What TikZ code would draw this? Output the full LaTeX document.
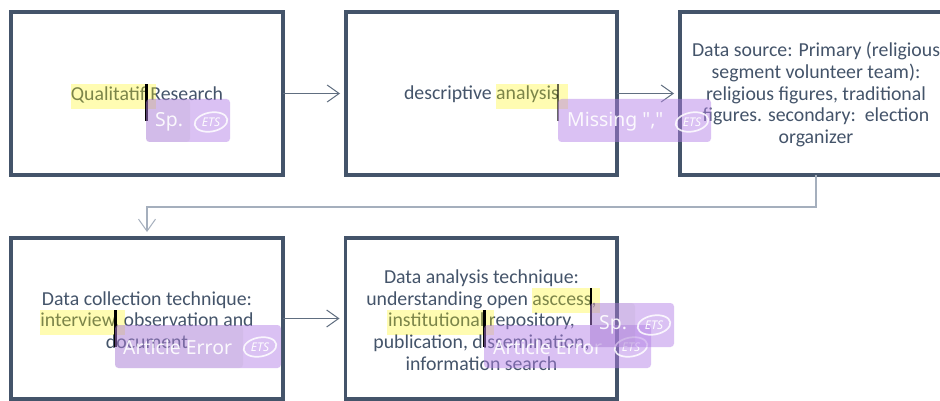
\documentclass[tikz,border=0pt]{standalone}
\usepackage{fontspec}
\setmainfont{Carlito}
\newfontfamily\badgefont{Noto Sans}
\usetikzlibrary{arrows.meta}
\definecolor{slate}{HTML}{44546A}
\definecolor{elbow}{HTML}{A5AFBD}
\definecolor{hl}{HTML}{FFF700}
\definecolor{pur}{HTML}{B27FE6}
\tikzset{
  x=1pt,y=-1pt,
  stepbox/.style={draw=slate,line width=3.2pt,fill=white,minimum width=272pt,minimum height=163pt,inner sep=0pt,outer sep=0pt,anchor=north west},
  boxtext/.style={text=slate,font=\fontsize{19.8}{21.7}\selectfont,align=center,inner sep=0pt},
  flow/.style={draw=slate!85!white,line width=1pt,-{Straight Barb[length=12pt,width=17pt,line width=1pt]},shorten >=6pt},
  hilite/.style={fill=hl,opacity=.3},
  caret/.style={fill=black},
  badge/.style={fill=pur,opacity=.48,rounded corners=3.5pt},
  badgeshade/.style={fill=black!55,opacity=.07,rounded corners=3.5pt},
  badgetext/.style={text=white,text opacity=.9,font=\badgefont\fontsize{19.4}{22}\selectfont,inner sep=0pt,anchor=west},
  etsring/.style={draw=white,draw opacity=.85,line width=1.7pt},
  etstext/.style={text=white,text opacity=.95,font=\badgefont\bfseries\itshape\fontsize{12}{12}\selectfont,inner sep=0pt},
}
\newcommand{\etslogo}[2]{%
  \begin{scope}[shift={(#1,#2)},rotate=10]
    \draw[etsring] (0,0) ellipse [x radius=16.5pt,y radius=9.5pt];
    \node[etstext] (ets#1) at (0,0) {ETS};
  \end{scope}
}
\begin{document}
\begin{tikzpicture}
\clip (0,0) rectangle (940,401);
\fill[white] (0,0) rectangle (940,401);
% boxes
\node[stepbox] (b1) at (11,12) {};
\node[stepbox,minimum width=271pt] (b2) at (346,12) {};
\node[stepbox] (b3) at (680,12) {};
\node[stepbox,minimum height=161pt] (b4) at (11,238) {};
\node[stepbox,minimum height=161pt,minimum width=271.5pt] (b5) at (345.5,238) {};
% texts
\node[boxtext] (t1) at (147,94.5) {Qualitatif Research};
\node[boxtext] (t2) at (481.5,94.5) {descriptive analysis};
\node[boxtext] (t3) at (816,94.5) {Data source: Primary (religious\\segment volunteer team):\\religious figures, traditional\\figures. secondary:\ \ election\\organizer};
\node[boxtext] (t4) at (147,320) {Data collection technique:\\interview, observation and\\document};
\node[boxtext] (t5) at (481.5,320) {Data analysis technique:\\understanding open asccess,\\institutional repository,\\publication, dissemination,\\information search};
% connectors
\draw[flow] (b1.east) -- (b2.west);
\draw[flow] (b2.east) -- (b3.west);
\draw[flow] (b4.east) -- (b5.west);
\coordinate (bend) at (816,207);
\draw[draw=elbow,line width=1.2pt,-{Straight Barb[length=12pt,width=17pt,line width=1pt]},shorten >=6pt] (b3.south) |- (bend) -| (b4.north);
% highlights
\fill[hilite] (71,84) rectangle (156,109);
\fill[hilite] (496,84) rectangle (568,109);
\fill[hilite] (40,310) rectangle (125,335);
\fill[hilite] (532,288) rectangle (600,313);
\fill[hilite] (387,310) rectangle (494,335);
% carets
\fill[caret] (145,84) rectangle (147.5,121);
\fill[caret,opacity=.6] (557,84) rectangle (559,121);
\fill[caret] (114,310) rectangle (116.5,347);
\fill[caret] (589.5,288) rectangle (592,325);
\fill[caret] (483,310) rectangle (485.5,347);
% badges
\fill[badge] (146,99) rectangle (230,142);
\fill[badgeshade] (146,99) rectangle (190,142);
\node[badgetext] (s1) at (155,122) {Sp.};
\etslogo{211}{122}
\fill[badge] (558,99) rectangle (711,142);
\node[badgetext] (s2) at (567,122) {Missing ","};
\etslogo{692}{122}
\fill[badge] (115,325) rectangle (281,368);
\fill[badgeshade] (115,325) rectangle (243,368);
\node[badgetext] (s3) at (123,347) {Article Error};
\etslogo{260}{347}
\fill[badge] (484,325) rectangle (651,368);
\node[badgetext] (s4) at (493,347) {Article Error};
\etslogo{631}{347}
\fill[badge] (590,303) rectangle (674,347);
\fill[badgeshade] (590,303) rectangle (635,347);
\node[badgetext] (s5) at (599,325) {Sp.};
\etslogo{654}{325}
\end{tikzpicture}
\end{document}
